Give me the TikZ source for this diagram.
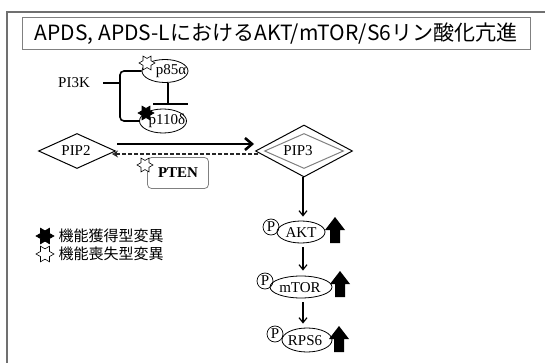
\documentclass[tikz,border=0pt]{standalone}
\usepackage{fontspec}
\setmainfont{Liberation Serif}
\newfontfamily\jpfont{Noto Sans CJK JP}
\usetikzlibrary{shapes.geometric,arrows.meta}
\definecolor{framegray}{HTML}{707070}
\definecolor{boxgray}{HTML}{808080}
\tikzset{
  body/.style={font=\fontsize{15}{17}\selectfont},
  prot/.style={ellipse, draw, line width=0.8pt, inner sep=0pt},
  lbl/.style={inner sep=0pt, body},
  hexstar/.style={star, star points=6, star point ratio=1.75, draw, line width=0.6pt, inner sep=0pt, minimum size=16pt, shape border rotate=30},
  openstar/.style={hexstar, fill=white},
  fullstar/.style={hexstar, fill=black},
  pcirc/.style={circle, draw, line width=0.7pt, inner sep=0pt, minimum size=16pt, body},
  diam/.style={diamond, draw, line width=1pt, aspect=2.2, inner sep=0pt},
  flow/.style={-{Straight Barb[length=5pt,width=8pt]}, line width=1.2pt},
}
\newcommand{\blockup}[1]{%
  \fill (#1) ++(-5,13) -- ++(0,-13) -- ++(-5,0) -- ++(10,-13) -- ++(10,13) -- ++(-5,0) -- ++(0,13) -- cycle;}
\begin{document}
\begin{tikzpicture}[x=1pt,y=-1pt]
\useasboundingbox (0,0) rectangle (545,363);
% outer frame
\draw[framegray, line width=2pt] (7,363) -- (7,12) -- (545,12);
% title
\node[draw=boxgray, line width=1pt, minimum width=508pt, minimum height=32pt, inner sep=0pt] (title) at (276,34) {};
\node[font=\jpfont\fontsize{21}{23}\selectfont, inner sep=0pt] (titletxt) at (title.center) {APDS, APDS-LにおけるAKT/mTOR/S6リン酸化亢進};
% PI3K
\node[body] (pi3k) at (74,83) {PI3K};
\node[prot, minimum width=46pt, minimum height=23pt] (p85) at (165,71) {};
\node[lbl] (p85t) at (171,71) {p85α};
\node[prot, minimum width=47pt, minimum height=24pt] (p110) at (163,121) {};
\node[lbl] (p110t) at (167,121) {p110δ};
\draw[line width=1.6pt, rounded corners=4pt] (p85.west) -| (120,83) |- (p110.west);
\coordinate (bracetip) at (103,83);
\draw[line width=1.6pt] (120,83) -- (bracetip);
\coordinate (inhend) at (168,104);
\draw[line width=1.2pt] (p85.south -| inhend) -- (inhend);
\draw[line width=1.2pt] (153,104) -- (188,104);
\node[openstar] (s85) at (147,63) {};
\node[fullstar] (s110) at (146,113) {};
% PIP2 / PIP3
\node[diam, minimum width=77pt, minimum height=35pt] (pip2) at (77,151) {};
\node[lbl] (pip2t) at (76,151) {PIP2};
\node[diam, minimum width=97pt, minimum height=52pt] (pip3) at (304,151) {};
\node[diam, draw=boxgray, minimum width=79pt, minimum height=35pt] (pip3in) at (304,151) {};
\node[lbl] (pip3t) at (298,151) {PIP3};
\coordinate (a1s) at (117,144);
\coordinate (a1e) at (254,144);
\draw[-{Straight Barb[length=7pt,width=12pt]}, line width=2.6pt] (a1s) -- (a1e);
\coordinate (a2s) at (258,154);
\coordinate (a2e) at (112,154);
\draw[-{Stealth[length=6pt,width=7pt,fill=white]}, line width=1.2pt, dash pattern=on 4pt off 2pt, draw=black!85] (a2s) -- (a2e);
% PTEN
\node[draw=boxgray, rounded corners=4pt, line width=0.8pt, minimum width=61pt, minimum height=31pt, font=\fontsize{15}{17}\selectfont\bfseries] (pten) at (178,173) {PTEN};
\node[openstar] (spten) at (145,165) {};
% cascade
\node[pcirc] (pakt) at (271,227) {P};
\node[prot, minimum width=48pt, minimum height=22pt] (akt) at (301,232) {};
\node[lbl] (aktt) at (301,233) {AKT};
\coordinate (upakt) at (335,230);
\blockup{upakt}
\node[pcirc] (pmtor) at (265,281) {P};
\node[prot, minimum width=62pt, minimum height=22pt] (mtor) at (301,287) {};
\node[lbl] (mtort) at (300,288) {mTOR};
\coordinate (upmtor) at (340,284);
\blockup{upmtor}
\node[pcirc] (prps) at (275,334) {P};
\node[prot, minimum width=50pt, minimum height=24pt] (rps) at (307,340) {};
\node[lbl] (rpst) at (305,341) {RPS6};
\coordinate (uprps) at (339,339);
\blockup{uprps}
\coordinate (axis) at (303,0);
\draw[flow] (pip3.south -| axis) -- ([yshift=4pt]akt.north -| axis);
\draw[flow] ([yshift=-4pt]akt.south -| axis) -- ([yshift=5pt]mtor.north -| axis);
\draw[flow] ([yshift=-4pt]mtor.south -| axis) -- ([yshift=4pt]rps.north -| axis);
% legend
\node[fullstar, minimum size=18pt] (lg1) at (45,236) {};
\node[anchor=west, font=\jpfont\fontsize{15}{18}\selectfont] (lt1) at (55,236) {機能獲得型変異};
\node[openstar, minimum size=18pt] (lg2) at (45,254) {};
\node[anchor=west, font=\jpfont\fontsize{15}{18}\selectfont] (lt2) at (55,254) {機能喪失型変異};
\end{tikzpicture}
\end{document}
